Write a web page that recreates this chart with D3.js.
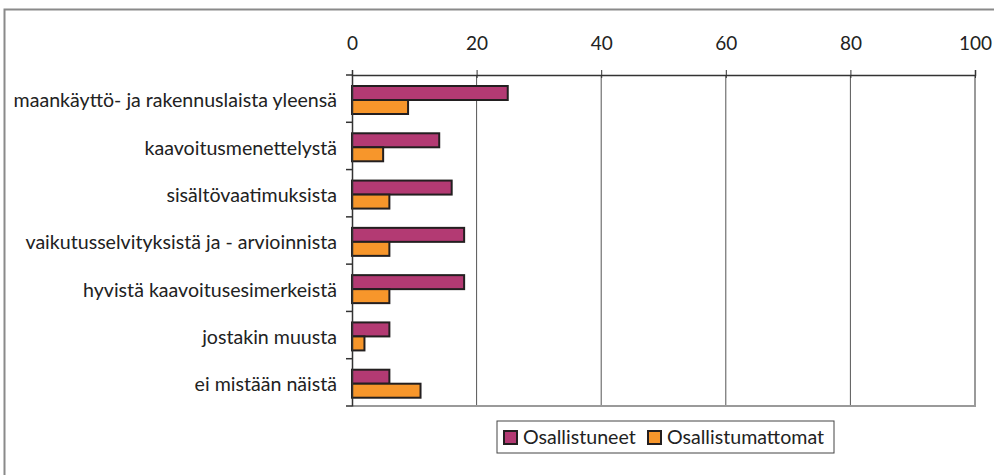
<!DOCTYPE html>
<html>
<head>
<meta charset="utf-8">
<script src="https://cdn.jsdelivr.net/npm/d3@7"></script>
<style>
  html, body { margin: 0; padding: 0; background: #fff; }
  svg { display: block; font-family: Lato, "Open Sans", sans-serif; }
</style>
</head>
<body>
<svg id="chart" width="994" height="475"></svg>
<script>
// Survey topics and the share (%) of respondents in each group
const categories = [
  "maankäyttö- ja rakennuslaista yleensä",
  "kaavoitusmenettelystä",
  "sisältövaatimuksista",
  "vaikutusselvityksistä ja - arvioinnista",
  "hyvistä kaavoitusesimerkeistä",
  "jostakin muusta",
  "ei mistään näistä"
];
const osallistuneet = [25, 14, 16, 18, 18, 6, 6];
const osallistumattomat = [9, 5, 6, 6, 6, 2, 11];
const seriesNames = ["Osallistuneet", "Osallistumattomat"];
const seriesColors = ["#b33a73", "#f7962b"];
const tickValues = [0, 20, 40, 60, 80, 100];

const svg = d3.select("#chart");
const plot = { left: 352, right: 975, top: 75, bottom: 406 };

// Outer frame
svg.append("path")
  .attr("d", "M4.5,475 V9.5 H994")
  .attr("fill", "none").attr("stroke", "#8a8a8a").attr("stroke-width", 2);

const x = d3.scaleLinear().domain([0, 100]).range([plot.left, plot.right]);
const y = d3.scaleBand().domain(categories).range([plot.top, plot.bottom]).paddingInner(0).paddingOuter(0);
const barH = 14;

// Vertical gridlines
svg.append("g").selectAll("line")
  .data(tickValues.filter(v => v > 0 && v < 100))
  .join("line")
  .attr("x1", d => x(d)).attr("x2", d => x(d))
  .attr("y1", plot.top).attr("y2", plot.bottom)
  .attr("stroke", "#555").attr("stroke-width", 1);

// Plot border (right & bottom)
svg.append("path")
  .attr("d", `M${plot.left},${plot.bottom} H${plot.right} V${plot.top}`)
  .attr("fill", "none").attr("stroke", "#9a9a9a").attr("stroke-width", 2);

// Bars
const groups = [osallistuneet, osallistumattomat];
groups.forEach((vals, si) => {
  svg.append("g").selectAll("rect")
    .data(categories.map((c, i) => ({ c, v: vals[i] })))
    .join("rect")
    .attr("x", x(0))
    .attr("y", d => y(d.c) + 11 + si * barH)
    .attr("width", d => x(d.v) - x(0))
    .attr("height", barH)
    .attr("fill", seriesColors[si])
    .attr("stroke", "#231f20").attr("stroke-width", 2);
});

// Top value axis
const xAxis = d3.axisTop(x).tickValues(tickValues).tickSize(5).tickPadding(20);
const gx = svg.append("g").attr("transform", `translate(0,${plot.top})`).call(xAxis);
gx.select(".domain").attr("stroke", "#333").attr("stroke-width", 1.5);
gx.selectAll(".tick line").attr("stroke", "#333").attr("y2", -5).attr("y1", 3);
gx.selectAll(".tick text").attr("font-size", 19).attr("fill", "#222")
  .attr("font-family", "Lato, sans-serif");

// Left category axis
const yAxis = d3.axisLeft(y).tickSize(0).tickPadding(15);
const gy = svg.append("g").attr("transform", `translate(${plot.left},0)`).call(yAxis);
gy.select(".domain").attr("stroke", "#333").attr("stroke-width", 1.5);
gy.selectAll(".tick text").attr("font-size", 19.6).attr("fill", "#222")
  .attr("dy", "0.45em").attr("font-family", "Lato, sans-serif");
// Category separator ticks
svg.append("g").selectAll("line")
  .data(categories.map(c => y(c) + y.bandwidth()))
  .join("line")
  .attr("x1", plot.left - 6).attr("x2", plot.left)
  .attr("y1", d => d).attr("y2", d => d)
  .attr("stroke", "#333").attr("stroke-width", 1.5);
svg.append("line")
  .attr("x1", plot.left - 6).attr("x2", plot.left)
  .attr("y1", plot.top).attr("y2", plot.top)
  .attr("stroke", "#333").attr("stroke-width", 1.5);

// Legend
const lg = svg.append("g");
lg.append("rect").attr("x", 497).attr("y", 421).attr("width", 337).attr("height", 32)
  .attr("fill", "#fff").attr("stroke", "#444").attr("stroke-width", 1);
const legendX = [504, 648];
seriesNames.forEach((name, i) => {
  lg.append("rect").attr("x", legendX[i]).attr("y", 431).attr("width", 13).attr("height", 13)
    .attr("fill", seriesColors[i]).attr("stroke", "#231f20").attr("stroke-width", 2);
  lg.append("text").attr("x", legendX[i] + 19).attr("y", 444)
    .attr("font-size", 19.6).attr("fill", "#222").text(name);
});
</script>
</body>
</html>
